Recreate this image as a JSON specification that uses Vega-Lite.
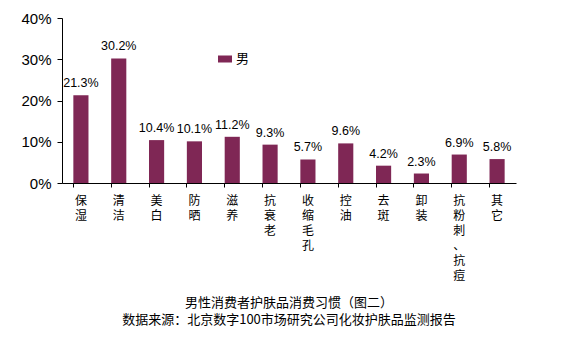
{
  "$schema": "https://vega.github.io/schema/vega-lite/v6.json",
  "width": 454,
  "height": 165,
  "autosize": "none",
  "padding": {"left": 62, "top": 18, "right": 47, "bottom": 170},
  "background": "white",
  "config": {
    "font": "Liberation Sans, Noto Sans CJK SC",
    "view": {"stroke": null}
  },
  "title": {
    "text": ["男性消费者护肤品消费习惯（图二）", "数据来源：北京数字100市场研究公司化妆护肤品监测报告"],
    "orient": "bottom",
    "anchor": "middle",
    "fontSize": 13,
    "fontWeight": "normal",
    "color": "#000000",
    "lineHeight": 17,
    "offset": 16,
    "font": "Noto Sans CJK SC"
  },
  "data": {
    "values": [
      {"category": "保湿", "value": 0.213, "sex": "男"},
      {"category": "清洁", "value": 0.302, "sex": "男"},
      {"category": "美白", "value": 0.104, "sex": "男"},
      {"category": "防晒", "value": 0.101, "sex": "男"},
      {"category": "滋养", "value": 0.112, "sex": "男"},
      {"category": "抗衰老", "value": 0.093, "sex": "男"},
      {"category": "收缩毛孔", "value": 0.057, "sex": "男"},
      {"category": "控油", "value": 0.096, "sex": "男"},
      {"category": "去斑", "value": 0.042, "sex": "男"},
      {"category": "卸装", "value": 0.023, "sex": "男"},
      {"category": "抗粉刺、抗痘", "value": 0.069, "sex": "男"},
      {"category": "其它", "value": 0.058, "sex": "男"}
    ]
  },
  "encoding": {
    "x": {
      "field": "category",
      "type": "nominal",
      "sort": null,
      "scale": {"paddingInner": 0.6, "paddingOuter": 0.3},
      "axis": {
        "title": null,
        "labelAngle": 0,
        "labelExpr": "split(datum.label, '')",
        "labelFontSize": 12,
        "labelLineHeight": 15,
        "labelBaseline": "top",
        "labelPadding": 8,
        "labelColor": "#000000",
        "domainColor": "#000000",
        "tickColor": "#000000",
        "tickSize": 4,
        "bandPosition": 0,
        "labelFont": "Noto Sans CJK SC"
      }
    },
    "y": {
      "field": "value",
      "type": "quantitative",
      "scale": {"domain": [0, 0.4]},
      "axis": {
        "title": null,
        "format": ".0%",
        "values": [0, 0.1, 0.2, 0.3, 0.4],
        "grid": false,
        "labelFontSize": 15,
        "labelColor": "#000000",
        "domainColor": "#000000",
        "tickColor": "#000000",
        "tickSize": 5,
        "labelPadding": 6
      }
    }
  },
  "layer": [
    {
      "mark": {"type": "bar", "color": "#7F2755"},
      "encoding": {
        "color": {
          "field": "sex",
          "type": "nominal",
          "scale": {"range": ["#7F2755"]},
          "legend": {
            "title": null,
            "orient": "none",
            "legendX": 156,
            "legendY": 34,
            "padding": 0,
            "symbolType": "M-1,-0.5H1V0.5H-1Z",
            "symbolSize": 196,
            "symbolStrokeWidth": 0,
            "labelFontSize": 13,
            "labelOffset": 4,
            "labelColor": "#000000",
            "labelFont": "Noto Sans CJK SC"
          }
        }
      }
    },
    {
      "mark": {"type": "text", "dy": -5, "baseline": "bottom", "fontSize": 12.5, "color": "#000000"},
      "encoding": {
        "text": {"field": "value", "type": "quantitative", "format": ".1%"}
      }
    }
  ]
}
